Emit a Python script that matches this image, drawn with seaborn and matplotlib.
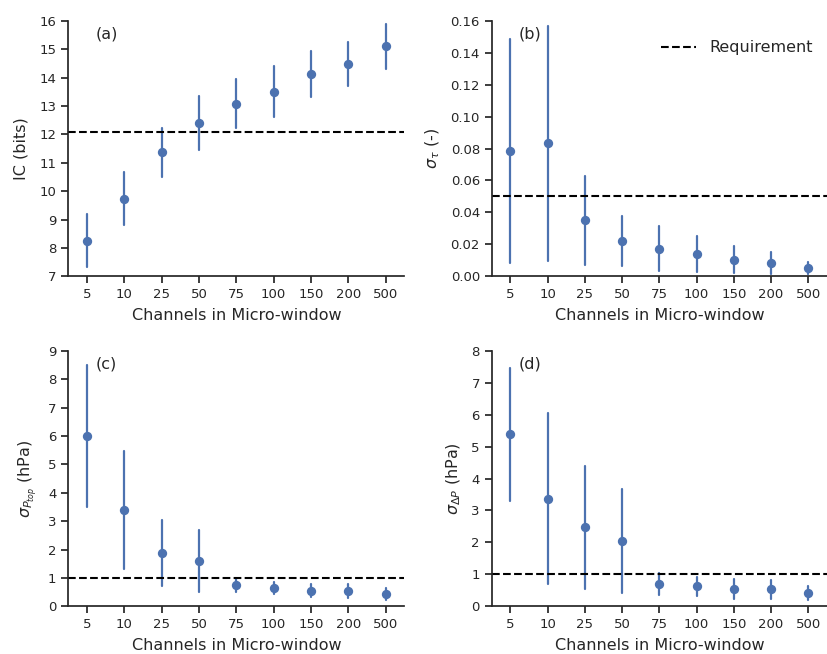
import pandas as pd
import seaborn as sns
import matplotlib.pyplot as plt

# values (mean and +/- spread)
channels = ['5', '10', '25', '50', '75', '100', '150', '200', '500']

ic_mean = [8.25, 9.73, 11.36, 12.40, 13.08, 13.50, 14.12, 14.48, 15.10]
ic_err = [0.93, 0.94, 0.85, 0.96, 0.86, 0.90, 0.80, 0.77, 0.79]

tau_mean = [0.0784, 0.0832, 0.0350, 0.0221, 0.0173, 0.0140, 0.0104, 0.0083, 0.0052]
tau_err = [0.0700, 0.0737, 0.0280, 0.0159, 0.0139, 0.0115, 0.0083, 0.0067, 0.0036]

ptop_mean = [6.00, 3.38, 1.89, 1.60, 0.74, 0.65, 0.55, 0.55, 0.43]
ptop_err = [2.51, 2.08, 1.16, 1.10, 0.25, 0.22, 0.22, 0.25, 0.20]

dp_mean = [5.38, 3.37, 2.47, 2.05, 0.70, 0.63, 0.55, 0.53, 0.42]
dp_err = [2.08, 2.68, 1.93, 1.62, 0.35, 0.30, 0.31, 0.29, 0.23]

requirement = [12.08, 0.05, 1.0, 1.0]
panel_labels = ['(a)', '(b)', '(c)', '(d)']
ylabels = ['IC (bits)', r'$\sigma_\tau$ (-)', r'$\sigma_{P_{top}}$ (hPa)', r'$\sigma_{\Delta P}$ (hPa)']
ylims = [(7, 16), (0, 0.16), (0, 9), (0, 8)]
yticks = [list(range(7, 17)), [0.00, 0.02, 0.04, 0.06, 0.08, 0.10, 0.12, 0.14, 0.16],
          list(range(0, 10)), list(range(0, 9))]
labelpads = [8, 6, 6, 6]

sns.set_style('ticks')
plt.rcParams.update({
    'font.family': ['DejaVu Sans'],
    'xtick.labelsize': 9.5,
    'ytick.labelsize': 9.5,
    'axes.labelsize': 11.5,
    'legend.fontsize': 11.5,
    'axes.linewidth': 1.25,
    'xtick.major.size': 5,
    'ytick.major.size': 5,
    'xtick.major.width': 1.25,
    'ytick.major.width': 1.25,
})


def to_long(mean, err):
    # two rows per category -> mean is the centre, min/max are the bar ends
    rows = []
    for c, m, e in zip(channels, mean, err):
        rows.append({'channels': c, 'value': m - e})
        rows.append({'channels': c, 'value': m + e})
    return pd.DataFrame(rows)


series = [(ic_mean, ic_err), (tau_mean, tau_err), (ptop_mean, ptop_err), (dp_mean, dp_err)]

fig = plt.figure(figsize=(8.27, 6.54), dpi=100)
positions = [
    [0.0826, 0.5775, 0.4063, 0.3908],
    [0.5946, 0.5775, 0.4054, 0.3908],
    [0.0826, 0.0729, 0.4063, 0.3908],
    [0.5946, 0.0729, 0.4054, 0.3908],
]

for i, (mean, err) in enumerate(series):
    ax = fig.add_axes(positions[i])
    df = to_long(mean, err)
    sns.pointplot(data=df, x='channels', y='value', order=channels,
                  color='#4C72B0', linestyle='none', markers='o',
                  markersize=5.5, linewidth=1.6,
                  errorbar=lambda v: (v.min(), v.max()), ax=ax)
    ax.axhline(requirement[i], ls='--', color='k', lw=1.5, label='Requirement')
    ax.set_ylim(ylims[i])
    ax.set_yticks(yticks[i])
    if i == 1:
        ax.set_yticklabels(['%.2f' % t for t in yticks[i]])
        ax.legend(loc='upper right', frameon=False, handlelength=2.2,
                  bbox_to_anchor=(1.0, 0.98))
    ax.set_xlim(-0.5, 8.5)
    ax.set_xlabel('Channels in Micro-window', labelpad=5)
    ax.set_ylabel(ylabels[i], labelpad=labelpads[i])
    ax.text(0.08, 0.95, panel_labels[i], transform=ax.transAxes,
            ha='left', va='center', fontsize=11.5, color='.15')
    sns.despine(ax=ax)

plt.savefig('out.png', dpi=100)
